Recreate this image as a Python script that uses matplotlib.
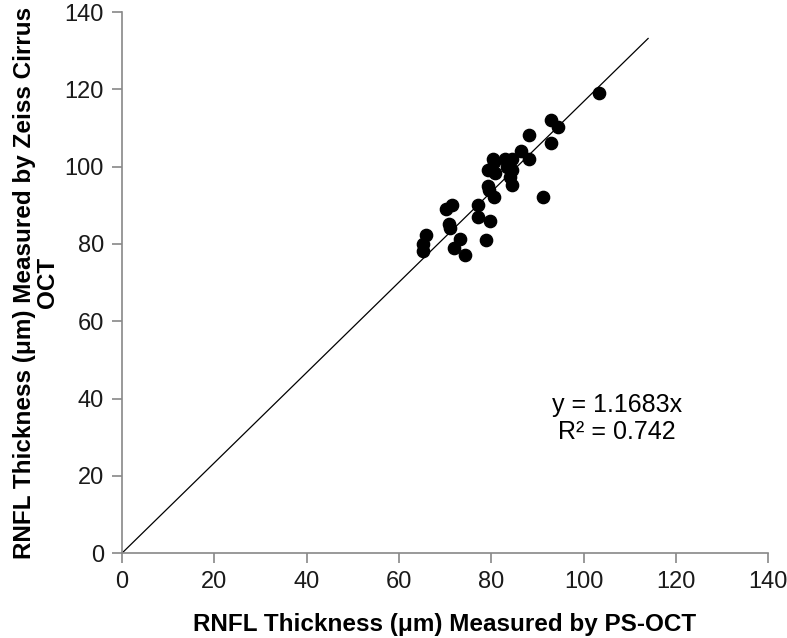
import matplotlib.pyplot as plt
import numpy as np

plt.rcParams['font.family'] = ['Liberation Sans', 'DejaVu Sans']

# Данные: толщина RNFL (PS-OCT по x, Zeiss Cirrus по y)
ps_oct = [103.4, 92.9, 94.4, 88.1, 92.9, 86.4, 88.1, 80.3, 83.0, 84.5,
          80.5, 79.2, 80.8, 83.4, 84.5, 84.1, 84.5, 79.2, 79.6, 80.5,
          91.2, 77.2, 71.6, 70.2, 77.2, 79.8, 70.9, 71.1, 65.9, 65.3,
          73.3, 78.9, 72.0, 65.3, 74.3]
cirrus = [119.1, 112.2, 110.2, 108.2, 106.2, 104.1, 102.0, 102.0, 102.0, 102.0,
          101.3, 99.1, 98.4, 100.0, 99.1, 97.4, 95.2, 95.0, 94.0, 92.2,
          92.2, 90.1, 90.1, 89.1, 87.0, 86.0, 85.1, 84.1, 82.2, 80.1,
          81.2, 81.0, 79.0, 78.1, 77.1]
slope = 1.1683
r2 = 0.742
line_x = [0, 114]
ticks = [0, 20, 40, 60, 80, 100, 120, 140]

fig = plt.figure(figsize=(7.87, 6.38), dpi=100)
ax = fig.add_axes([0.155, 0.133, 0.821, 0.848])

# Линия тренда
ax.plot(line_x, [slope * v for v in line_x], color='black', lw=0.9, zorder=1)
# Точки
ax.scatter(ps_oct, cirrus, s=78, color='black', zorder=2)

ax.text(107.3, 38.3, f'y = {slope}x', ha='center', va='center', fontsize=18)
ax.text(107.3, 31.3, f'R² = {r2}', ha='center', va='center', fontsize=18)

ax.set_xlim(0, 140)
ax.set_ylim(0, 140)
ax.set_xticks(ticks)
ax.set_yticks(ticks)
for side in ['top', 'right']:
    ax.spines[side].set_visible(False)
for side in ['left', 'bottom']:
    ax.spines[side].set_color('#888888')
    ax.spines[side].set_linewidth(1.2)
ax.tick_params(direction='out', length=7, width=1.2, color='#888888',
               labelsize=17, labelcolor='#1a1a1a', pad=6)

ax.set_xlabel('RNFL Thickness (μm) Measured by PS-OCT', fontsize=17.5,
              fontweight='bold', labelpad=14)
ax.set_ylabel('RNFL Thickness (μm) Measured by Zeiss Cirrus\nOCT', fontsize=17.5,
              fontweight='bold', labelpad=4, linespacing=1.0)

fig.savefig('out.png', dpi=100)
